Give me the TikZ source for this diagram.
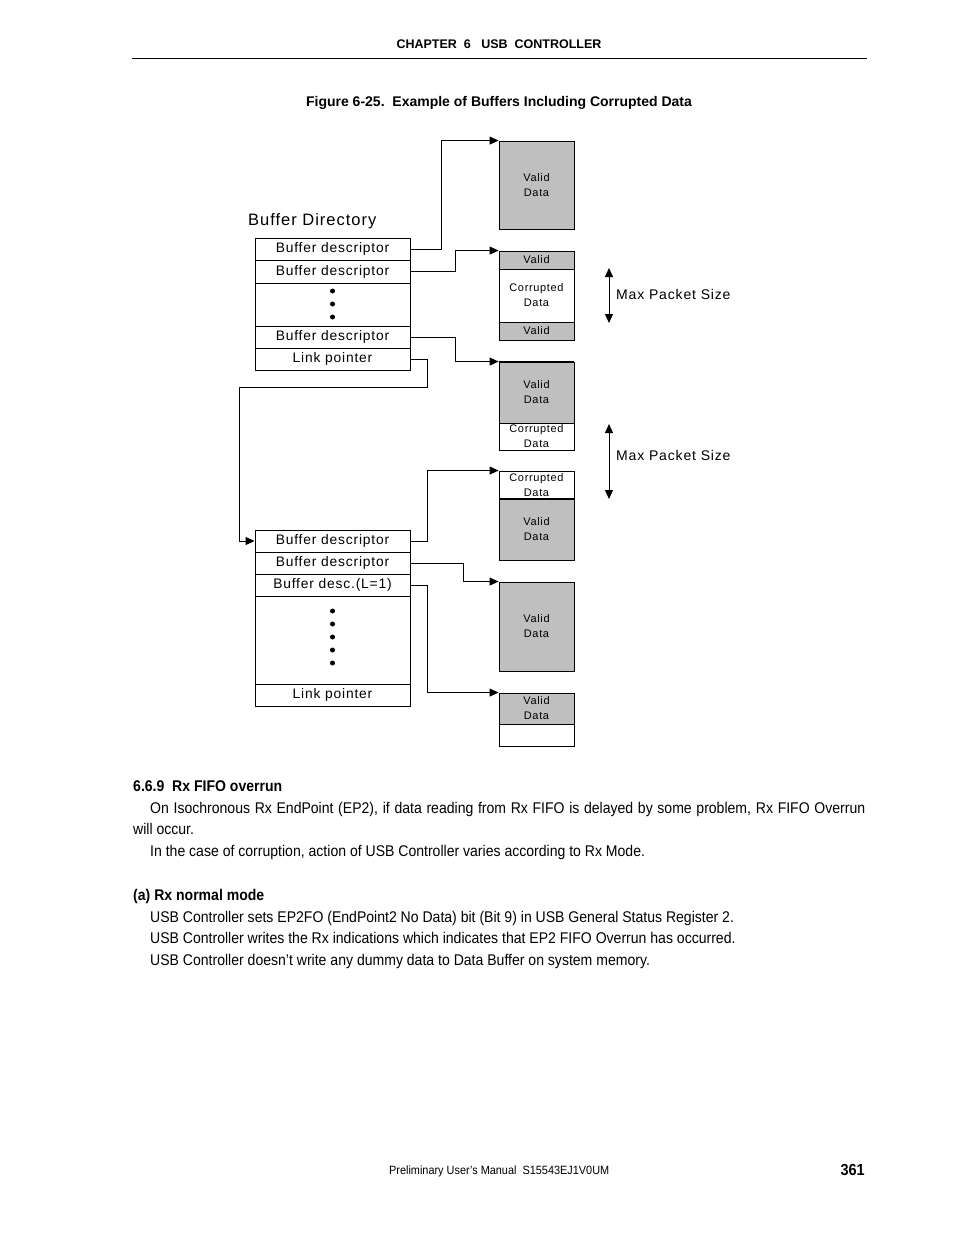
\documentclass[tikz,border=0pt]{standalone}
\usepackage{fontspec}
\setmainfont{Liberation Sans}
\newfontfamily\bodyf[FakeStretch=0.906]{Liberation Sans}
\newfontfamily\footf[FakeStretch=0.908]{Liberation Sans}
\newfontfamily\headf[FakeStretch=1.0]{Liberation Sans}
\newfontfamily\diagf[LetterSpace=6]{Liberation Sans}
\usetikzlibrary{arrows.meta}
\tikzset{
  row/.style={draw, line width=0.9pt, minimum width=155pt, inner sep=0pt, font=\diagf\fontsize{13.8}{15}\selectfont},
  buf/.style={draw, line width=0.9pt, minimum width=75pt, inner sep=0pt, align=center, font=\diagf\fontsize{11}{15}\selectfont},
  gray/.style={fill=black!25},
  arr/.style={line width=0.9pt, -{Triangle[length=9pt,width=8pt]}},
  dot/.style={circle, fill=black, inner sep=0pt, minimum size=5pt},
  body/.style={anchor=base west, inner sep=0pt, font=\bodyf\fontsize{15.5}{17}\selectfont},
  bodyb/.style={anchor=base west, inner sep=0pt, font=\bodyf\bfseries\fontsize{15.5}{17}\selectfont},
  lbl/.style={inner sep=0pt, font=\diagf\fontsize{14}{16}\selectfont}
}
\begin{document}
\begin{tikzpicture}[x=1pt,y=-1pt]
\useasboundingbox (0,0) rectangle (954,1235);
% header
\node[anchor=base, inner sep=0pt, font=\headf\bfseries\fontsize{12.5}{14}\selectfont] (hdr) at (499,48.5) {CHAPTER\ \ 6\ \ \ USB\ \ CONTROLLER};
\draw[line width=0.8pt] (132,58) -- (867,58);
\node[anchor=base, inner sep=0pt, font=\headf\bfseries\fontsize{14}{16}\selectfont] (cap) at (499,106) {Figure 6-25.\ \ Example of Buffers Including Corrupted Data};

% top directory
\node[lbl, anchor=west, font=\diagf\fontsize{16.5}{18}\selectfont] (bdir) at (248,221) {Buffer Directory};
\node[row, minimum height=22pt] (t1) at (332.5,249) {Buffer descriptor};
\node[row, minimum height=23pt] (t2) at (332.5,271.5) {Buffer descriptor};
\node[row, minimum height=43pt] (tdots) at (332.5,304.5) {};
\node[row, minimum height=22pt] (t3) at (332.5,337) {Buffer descriptor};
\node[row, minimum height=22pt] (tl) at (332.5,359) {Link pointer};
\node[dot] (td1) at (332.5,291) {};
\node[dot] (td2) at (332.5,304) {};
\node[dot] (td3) at (332.5,317) {};

% bottom directory
\node[row, minimum height=22pt] (u1) at (332.5,541) {Buffer descriptor};
\node[row, minimum height=22pt] (u2) at (332.5,563) {Buffer descriptor};
\node[row, minimum height=22pt] (u3) at (332.5,585) {Buffer desc.(L=1)};
\node[row, minimum height=88pt] (udots) at (332.5,640) {};
\node[row, minimum height=22pt] (ul) at (332.5,695) {Link pointer};
\foreach \y [count=\i] in {611,624,637,650,663} \node[dot] (ud\i) at (332.5,\y) {};

% buffers
\node[buf, gray, minimum height=88pt] (b1) at (536.5,185) {Valid\\Data};
\node[buf, gray, minimum height=18pt] (b2a) at (536.5,260) {Valid};
\node[buf, minimum height=53pt] (b2b) at (536.5,295.5) {Corrupted\\Data};
\node[buf, gray, minimum height=18pt] (b2c) at (536.5,331) {Valid};
\draw[line width=1.6pt] (b2c.south west) -- (b2c.south east);
\node[buf, gray, minimum height=61pt] (b3a) at (536.5,392.5) {Valid\\Data};
\node[buf, minimum height=27pt] (b3b) at (536.5,436.5) {Corrupted\\Data};
\draw[line width=1.6pt] (b3a.north west) -- (b3a.north east);
\node[buf, minimum height=28pt] (b4a) at (536.5,485) {Corrupted\\Data};
\node[buf, gray, minimum height=61pt] (b4b) at (536.5,529.5) {Valid\\Data};
\draw[line width=1.6pt] (b4b.north west) -- (b4b.north east);
\node[buf, gray, minimum height=89pt] (b5) at (536.5,626.5) {Valid\\Data};
\node[buf, gray, minimum height=31pt] (b6a) at (536.5,708.5) {Valid\\Data};
\node[buf, minimum height=22pt] (b6b) at (536.5,735) {};

% connectors
\draw[arr] (t1.east) -- ++(31,0) |- (b1.north west);
\draw[arr] (t2.east) -- ++(45,0) |- (b2a.north west);
\draw[arr] (t3.east) -- ++(45,0) |- (b3a.north west);
\coordinate (lpturn) at (239,387);
\draw[arr] (tl.east) -- ++(17,0) |- (lpturn) |- (u1.west);
\draw[arr] (u1.east) -- ++(17,0) |- (b4a.north west);
\draw[arr] (u2.east) -- ++(53,0) |- (b5.north west);
\draw[arr] (u3.east) -- ++(17,0) |- (b6a.north west);

% max packet size
\coordinate (m1t) at (609,268);
\coordinate (m1b) at (609,323);
\draw[line width=0.9pt, {Triangle[length=9pt,width=8pt]}-{Triangle[length=9pt,width=8pt]}] (m1t) -- (m1b);
\node[lbl, anchor=west] (mps1) at (616,294) {Max Packet Size};
\coordinate (m2t) at (609,424);
\coordinate (m2b) at (609,499);
\draw[line width=0.9pt, {Triangle[length=9pt,width=8pt]}-{Triangle[length=9pt,width=8pt]}] (m2t) -- (m2b);
\node[lbl, anchor=west] (mps2) at (616,455) {Max Packet Size};

% body text
\node[bodyb] (s1) at (133,791) {6.6.9\ \ Rx FIFO overrun};
\node[body] (p1) at (150,813) {\makebox[715pt][s]{On Isochronous Rx EndPoint (EP2), if data reading from Rx FIFO is delayed by some problem, Rx FIFO Overrun}};
\node[body] (p2) at (133,834) {will occur.};
\node[body] (p3) at (150,856) {In the case of corruption, action of USB Controller varies according to Rx Mode.};
\node[bodyb] (s2) at (133,900) {(a) Rx normal mode};
\node[body] (q1) at (150,922) {USB Controller sets EP2FO (EndPoint2 No Data) bit (Bit 9) in USB General Status Register 2.};
\node[body] (q2) at (150,943) {USB Controller writes the Rx indications which indicates that EP2 FIFO Overrun has occurred.};
\node[body] (q3) at (150,965) {USB Controller doesn’t write any dummy data to Data Buffer on system memory.};

% footer
\node[anchor=base west, inner sep=0pt, font=\footf\fontsize{12}{14}\selectfont] (ft) at (389,1174) {Preliminary User’s Manual\ \ S15543EJ1V0UM};
\node[anchor=base east, inner sep=0pt, font=\bodyf\bfseries\fontsize{16}{18}\selectfont] (pg) at (865,1175) {361};
\end{tikzpicture}
\end{document}
